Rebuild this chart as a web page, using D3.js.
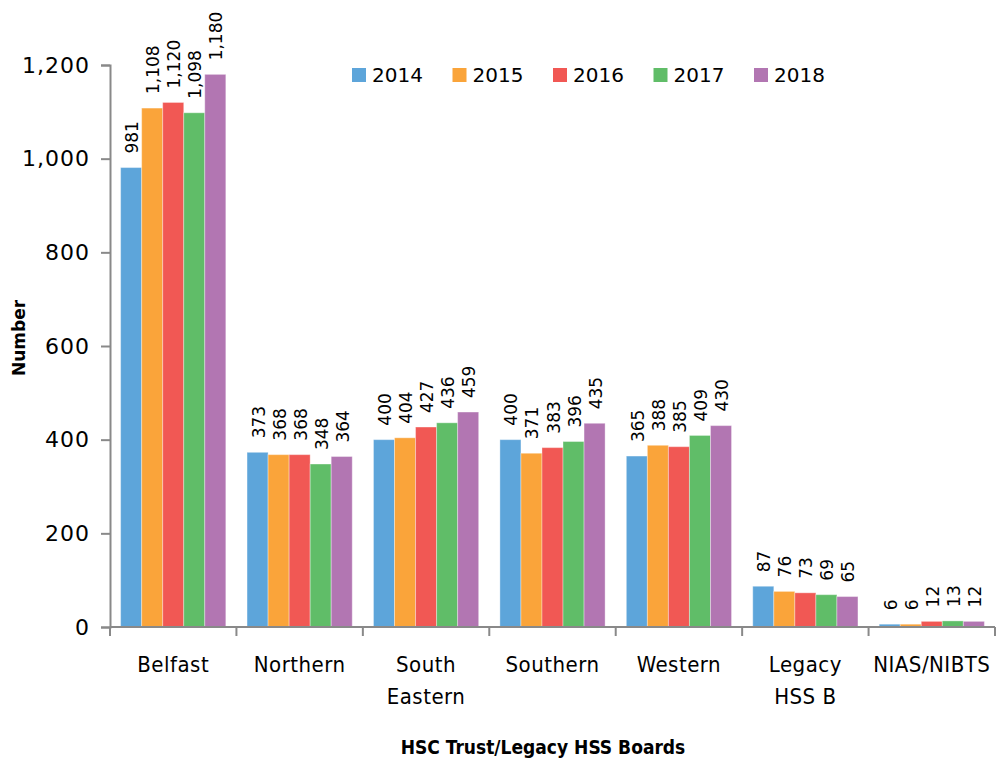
<!DOCTYPE html>
<html>
<head>
<meta charset="utf-8">
<script src="https://cdn.jsdelivr.net/npm/d3@7"></script>
<style>
  body { margin: 0; background: #fff; }
  svg { display: block; }
</style>
</head>
<body>
<svg id="chart"></svg>
<script>
// data
var categories = ['Belfast', 'Northern', 'South Eastern', 'Southern', 'Western', 'Legacy HSSB', 'NIAS/NIBTS'];
var catLines = [['Belfast'], ['Northern'], ['South', 'Eastern'], ['Southern'], ['Western'], ['Legacy', 'HSS B'], ['NIAS/NIBTS']];
var years = ['2014', '2015', '2016', '2017', '2018'];
var v2014 = [981, 373, 400, 400, 365, 87, 6];
var v2015 = [1108, 368, 404, 371, 388, 76, 6];
var v2016 = [1120, 368, 427, 383, 385, 73, 12];
var v2017 = [1098, 348, 436, 396, 409, 69, 13];
var v2018 = [1180, 364, 459, 435, 430, 65, 12];
var colors = ['#5DA5DA', '#FAA43A', '#F15854', '#60BD68', '#B276B2'];
var yTicks = [0, 200, 400, 600, 800, 1000, 1200];

var series = [v2014, v2015, v2016, v2017, v2018];

var width = 1000, height = 758;
var margin = {top: 65, right: 5, bottom: 131, left: 110};

var svg = d3.select('#chart')
    .attr('width', width)
    .attr('height', height);

var x = d3.scaleBand()
    .domain(categories)
    .range([margin.left, width - margin.right])
    .paddingInner(0.168)
    .paddingOuter(0.084);

var x1 = d3.scaleBand()
    .domain(years)
    .range([0, x.bandwidth()]);

var y = d3.scaleLinear()
    .domain([0, 1200])
    .range([height - margin.bottom, margin.top]);

var axisColor = '#898989';

// bars
var groups = svg.selectAll('.grp')
    .data(categories)
    .enter()
  .append('g')
    .classed('grp', true)
    .attr('transform', function(d) { return 'translate(' + x(d) + ',0)'; });

groups.selectAll('rect')
    .data(function(d, i) {
      return years.map(function(yr, j) { return {year: yr, value: series[j][i], j: j}; });
    })
    .enter()
  .append('rect')
    .attr('x', function(d) { return x1(d.year); })
    .attr('y', function(d) { return y(d.value); })
    .attr('width', x1.bandwidth())
    .attr('height', function(d) { return y(0) - y(d.value); })
    .attr('fill', function(d) { return colors[d.j]; })
    .attr('stroke', '#fff')
    .attr('stroke-opacity', 0.35)
    .attr('stroke-width', 1);

// value labels, rotated
groups.selectAll('text.lab')
    .data(function(d, i) {
      return years.map(function(yr, j) { return {year: yr, value: series[j][i]}; });
    })
    .enter()
  .append('text')
    .classed('lab', true)
    .attr('transform', function(d) {
      var cx = x1(d.year) + x1.bandwidth() / 2 + 1;
      return 'translate(' + cx + ',' + (y(d.value) - 14) + ') rotate(-90)';
    })
    .attr('dominant-baseline', 'central')
    .style('font-family', 'DejaVu Sans')
    .style('font-size', '17px')
    .style('fill', '#000')
    .text(function(d) { return d3.format(',')(d.value); });

// y axis
var yAxis = svg.append('g')
    .attr('transform', 'translate(' + margin.left + ',0)')
    .call(d3.axisLeft(y).tickValues(yTicks).tickSize(9).tickPadding(11).tickFormat(d3.format(',')));
yAxis.select('.domain').attr('stroke', axisColor).attr('stroke-width', 2);
yAxis.selectAll('.tick line').attr('stroke', axisColor).attr('stroke-width', 2);
yAxis.selectAll('.tick text')
    .style('font-family', 'DejaVu Sans')
    .style('font-size', '22px')
    .style('letter-spacing', '1px')
    .style('fill', '#000');

// x axis: ticks on the band boundaries
var xAxisG = svg.append('g');
xAxisG.append('line')
    .attr('x1', margin.left).attr('x2', width - margin.right)
    .attr('y1', y(0)).attr('y2', y(0))
    .attr('stroke', axisColor).attr('stroke-width', 2);

var step = x.step();
var bounds = categories.map(function(d) { return x(d) - x.paddingInner() * step / 2; });
bounds.push(width - margin.right);
bounds[0] = margin.left;
xAxisG.selectAll('line.xt')
    .data(bounds)
    .enter()
  .append('line')
    .classed('xt', true)
    .attr('x1', function(d) { return d; }).attr('x2', function(d) { return d; })
    .attr('y1', y(0)).attr('y2', y(0) + 9)
    .attr('stroke', axisColor).attr('stroke-width', 2);

// category labels
var catText = xAxisG.selectAll('text.cat')
    .data(categories)
    .enter()
  .append('text')
    .classed('cat', true)
    .attr('text-anchor', 'middle')
    .attr('x', function(d) { return x(d) + x.bandwidth() / 2; })
    .attr('y', y(0) + 45)
    .style('font-family', 'DejaVu Sans Condensed, DejaVu Sans')
    .style('font-stretch', 'condensed')
    .style('font-size', '22px')
    .style('letter-spacing', '0.5px')
    .style('fill', '#000');

catText.selectAll('tspan')
    .data(function(d, i) { return catLines[i]; })
    .enter()
  .append('tspan')
    .attr('x', function() { var p = d3.select(this.parentNode); return p.attr('x'); })
    .attr('dy', function(d, i) { return i === 0 ? 0 : 32; })
    .text(function(d) { return d; });

// axis titles
svg.append('text')
    .attr('x', 543)
    .attr('y', 754)
    .attr('text-anchor', 'middle')
    .style('font-family', 'DejaVu Sans Condensed, DejaVu Sans')
    .style('font-stretch', 'condensed')
    .style('font-weight', 'bold')
    .style('font-size', '19px')
    .text('HSC Trust/Legacy HSS Boards');

svg.append('text')
    .attr('transform', 'translate(19,338) rotate(-90)')
    .attr('text-anchor', 'middle')
    .attr('dominant-baseline', 'central')
    .style('font-family', 'DejaVu Sans')
    .style('font-weight', 'bold')
    .style('font-size', '17px')
    .text('Number');

// legend
var legend = svg.append('g')
    .attr('transform', 'translate(352,68)');

var li = legend.selectAll('g')
    .data(years)
    .enter()
  .append('g')
    .attr('transform', function(d, i) { return 'translate(' + (i * 100.5) + ',0)'; });

li.append('rect')
    .attr('width', 14)
    .attr('height', 14)
    .attr('fill', function(d, i) { return colors[i]; });

li.append('text')
    .attr('x', 20)
    .attr('y', 7)
    .attr('dominant-baseline', 'central')
    .style('font-family', 'DejaVu Sans')
    .style('font-size', '20px')
    .text(function(d) { return d; });
</script>
</body>
</html>
